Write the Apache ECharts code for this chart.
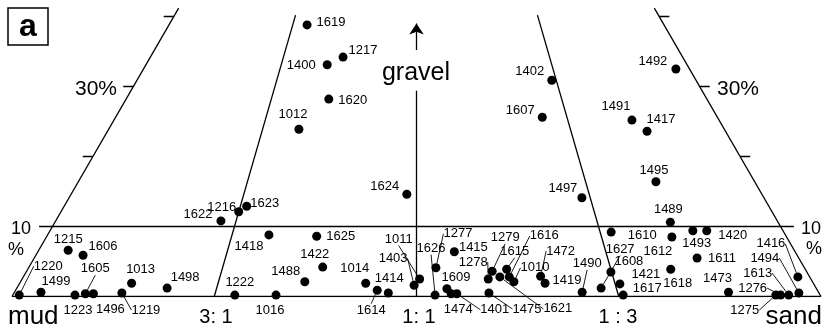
<!DOCTYPE html>
<html>
<head>
<meta charset="utf-8">
<script src="https://cdn.jsdelivr.net/npm/echarts@6/dist/echarts.min.js"></script>
<style>
html,body{margin:0;padding:0;background:#fff}
#main{width:825px;height:336px}
</style>
</head>
<body>
<div id="main"></div>
<script>
// sample numbers
var samples = ['1619','1400','1217','1620','1012','1624','1402','1607','1492','1491',
  '1417','1495','1497','1489','1216','1623','1622','1215','1606','1220',
  '1499','1223','1605','1496','1219','1013','1498','1418','1222','1016',
  '1625','1422','1488','1014','1614','1414','1403','1011','1626','1277',
  '1415','1609','1474','1401','1278','1279','1615','1621','1616','1010',
  '1475','1472','1419','1490','1627','1608','1610','1421','1617','1612',
  '1618','1493','1420','1611','1473','1416','1494','1613','1276','1275'];
// sand / (sand + mud) : 0 = mud, 1 = sand
var sandRatio = [0.279,0.335,0.362,0.349,0.309,0.486,0.742,0.709,0.975,0.856,
  0.873,0.854,0.738,0.851,0.250,0.259,0.229,0.039,0.062,0.008,
  0.033,0.077,0.089,0.099,0.134,0.141,0.188,0.300,0.275,0.326,
  0.365,0.379,0.359,0.436,0.451,0.465,0.497,0.504,0.523,0.525,
  0.550,0.538,0.543,0.550,0.591,0.597,0.616,0.606,0.618,0.623,
  0.590,0.658,0.662,0.706,0.731,0.749,0.765,0.756,0.756,0.845,
  0.827,0.877,0.896,0.867,0.888,0.985,0.975,0.961,0.951,0.945];
// gravel %
var gravel = [38.8,33.1,34.2,28.2,23.9,14.6,30.9,25.6,32.5,25.2,
  23.6,16.4,14.1,10.6,12.1,12.9,10.8,6.6,5.9,0.2,
  0.6,0.2,0.4,0.4,0.5,1.9,1.2,8.8,0.2,0.2,
  8.6,4.2,2.1,1.9,0.9,0.5,1.6,2.5,0.2,4.1,
  6.4,1.1,0.4,0.4,2.5,3.6,3.9,2.8,2.8,2.1,
  0.5,2.9,1.9,0.6,1.2,3.5,9.2,1.8,0.2,8.5,
  3.9,9.4,9.4,5.5,0.6,2.8,0.5,0.2,0.2,0.2];

var ratioLines = [0.25, 0.75];
var gravelTicks = [20, 30, 40];
var gravelSplit = 10;
var gravelTop = 41.2;

// label placement (px from dot centre)
var labelOffset = {
  '1619':[24,-2],'1400':[-26,1],'1217':[20,-7],'1620':[24,1],'1012':[-6,-15],
  '1624':[-22,-8],'1402':[-22,-9],'1607':[-22,-7],'1492':[-23,-8],'1491':[-16,-14],
  '1417':[14,-12],'1495':[-2,-11],'1497':[-19,-9],'1489':[-2,-13],'1216':[-17,-4],
  '1623':[18,-3],'1622':[-23,-6],'1215':[0,-11],'1606':[20,-9],'1220':[29,-29],
  '1499':[15,-11],'1223':[3,15],'1605':[10,-25],'1496':[17,16],'1219':[24,17],
  '1013':[9,-14],'1498':[18,-11],'1418':[-20,12],'1222':[5,-13],'1016':[-6,15],
  '1625':[24,0],'1422':[-8,-13],'1488':[-19,-10],'1014':[-11,-15],'1614':[-6,20],
  '1414':[1,-15],'1403':[-21,-27],'1011':[-21,-40],'1626':[-4,-47],'1277':[22,-34],
  '1415':[19,-4],'1609':[9,-11],'1474':[7,16],'1401':[38,16],'1278':[-15,-17],
  '1279':[13,-34],'1615':[8,-18],'1621':[58,32],'1616':[35,-41],'1010':[21,-14],
  '1475':[38,16],'1472':[20,-25],'1419':[22,-3],'1490':[5,-29],'1627':[19,-39],
  '1608':[18,-11],'1610':[31,3],'1421':[26,-9],'1617':[24,-7],'1612':[-14,14],
  '1618':[7,14],'1493':[4,13],'1420':[26,5],'1611':[25,0],'1473':[-11,-14],
  '1416':[-27,-33],'1494':[-34,-35],'1613':[-31,-22],'1276':[-28,-7],'1275':[-31,15]
};
var leaders = ['1220','1605','1219','1614','1403','1011','1626','1277','1401','1278',
  '1279','1615','1616','1010','1621','1475','1472','1490','1627','1416',
  '1494','1613','1276','1275'];

var FONT = '"Liberation Sans", Arial, Helvetica, sans-serif';

// ternary -> plot: gravel apex at 100%, base mud(0) .. sand(1)
function tern(r, g) {
  return [0.5 * g / 100 + r * (1 - g / 100), g];
}

var points = samples.map(function (id, i) {
  var item = { name: id, value: tern(sandRatio[i], gravel[i]) };
  if (leaders.indexOf(id) >= 0) item.labelLine = { show: true };
  return item;
});

var frame = [];
frame.push({ coords: [tern(0, 0), tern(1, 0)] });
frame.push({ coords: [tern(0, 0), tern(0, gravelTop)] });
frame.push({ coords: [tern(1, 0), tern(1, gravelTop)] });
ratioLines.forEach(function (r) {
  frame.push({ coords: [tern(r, 0), tern(r, 40.2)] });
});
frame.push({ coords: [tern(0.5, 0), tern(0.5, 29.4)] });
var ext = 0.0165;
frame.push({ coords: [[tern(0, gravelSplit)[0] - ext, gravelSplit], [tern(1, gravelSplit)[0] + ext, gravelSplit]] });
var tickLen = 0.0125;
gravelTicks.forEach(function (g) {
  var xl = tern(0, g)[0], xr = tern(1, g)[0];
  frame.push({ coords: [[xl - tickLen, g], [xl, g]] });
  frame.push({ coords: [[xr, g], [xr + tickLen, g]] });
});

var txt = function (x, y, s, size, align, extra) {
  var o = { type: 'text', x: x, y: y, silent: true,
    style: { text: s, fill: '#000', font: (extra || '') + size + 'px ' + FONT,
      textAlign: align || 'center', textVerticalAlign: 'middle' } };
  return o;
};

option = {
  animation: false,
  backgroundColor: '#fff',
  grid: { left: 12, width: 809, top: 2.5, height: 294 },
  xAxis: { type: 'value', min: 0, max: 1, show: false },
  yAxis: { type: 'value', min: 0, max: 42, show: false },
  graphic: [
    { type: 'rect', shape: { x: 8, y: 8, width: 40, height: 37 }, silent: true,
      style: { fill: 'none', stroke: '#000', lineWidth: 1.5 } },
    txt(28, 27, 'a', 32, 'center', 'bold '),
    txt(117, 89, '30%', 21, 'right'),
    txt(717, 89, '30%', 21, 'left'),
    txt(21, 229, '10', 18),
    txt(16, 250, '%', 18),
    txt(811, 229, '10', 18),
    txt(814, 249, '%', 18),
    txt(416, 73, 'gravel', 25),
    txt(8, 317, 'mud', 26, 'left'),
    txt(822, 317, 'sand', 26, 'right'),
    txt(216, 317, '3: 1', 20),
    txt(419, 317, '1: 1', 20),
    txt(618, 317, '1 : 3', 20)
  ],
  series: [
    {
      type: 'lines',
      coordinateSystem: 'cartesian2d',
      silent: true,
      lineStyle: { color: '#000', width: 1.3, opacity: 1 },
      data: frame
    },
    {
      type: 'lines',
      coordinateSystem: 'cartesian2d',
      silent: true,
      symbol: ['none', 'arrow'],
      symbolSize: 11,
      lineStyle: { color: '#000', width: 1.3, opacity: 1 },
      data: [{ coords: [tern(0.5, 35.2), tern(0.5, 39.0)] }]
    },
    {
      type: 'scatter',
      symbol: 'circle',
      symbolSize: 9,
      itemStyle: { color: '#000', opacity: 1 },
      label: {
        show: true,
        position: 'inside',
        formatter: '{b}',
        color: '#000',
        fontSize: 13,
        fontFamily: FONT
      },
      labelLine: { show: false, lineStyle: { color: '#000', width: 0.9, opacity: 1 } },
      labelLayout: function (p) {
        var o = labelOffset[samples[p.dataIndex]] || [0, 0];
        return { dx: o[0], dy: o[1] };
      },
      data: points
    }
  ]
};

var chart = echarts.init(document.getElementById('main'));
chart.setOption(option);
</script>
</body>
</html>
